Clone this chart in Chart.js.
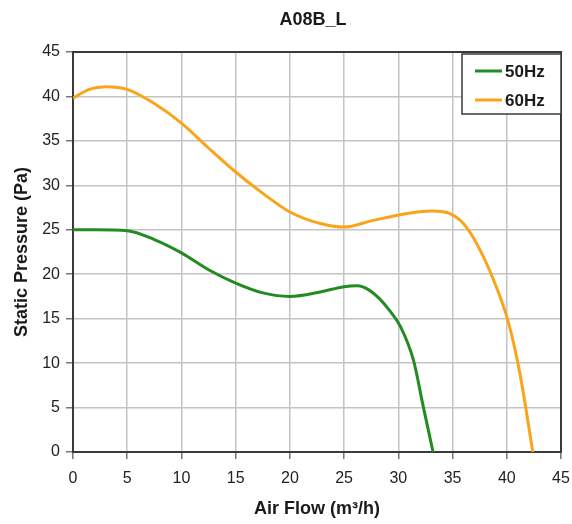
<!DOCTYPE html>
<html>
<head>
<meta charset="utf-8">
<script src="https://cdn.jsdelivr.net/npm/chart.js@4/dist/chart.umd.min.js"></script>
<style>
  html, body { margin: 0; padding: 0; background: #fff; }
  #wrap { width: 572px; height: 524px; }
</style>
</head>
<body>
<div id="wrap"><canvas id="chart" width="572" height="524"></canvas></div>
<script>
// Fan curve A08B_L
const chartTitle = 'A08B_L';
const xTicks = [0, 5, 10, 15, 20, 25, 30, 35, 40, 45];
const yTicks = [0, 5, 10, 15, 20, 25, 30, 35, 40, 45];

const flow50 = [0, 2, 5, 7.5, 10, 12.5, 15, 17.5, 20, 22.8, 25, 26.2, 27.2, 28.3, 29.2, 30.2, 31.4, 32.3, 33.2];
const pres50 = [25, 25, 24.9, 23.9, 22.4, 20.5, 19.0, 17.9, 17.5, 18.0, 18.6, 18.7, 18.3, 17.2, 15.9, 14.1, 10.3, 5.1, 0];

const flow60 = [0, 1.5, 3, 5, 7.5, 10, 12.5, 15, 17.5, 20, 22.8, 25, 27.5, 30.2, 33.1, 34.8, 36, 37.2, 38.8, 40.1, 41.2, 42.4];
const pres60 = [39.8, 40.8, 41.1, 40.8, 39.2, 37.0, 34.2, 31.5, 29.1, 27.0, 25.7, 25.3, 26.0, 26.7, 27.1, 26.8, 25.7, 23.5, 19.3, 14.8, 8.9, 0];

const GREEN = '#228b22';
const ORANGE = '#f8a51c';
const FONT = "'Liberation Sans', Arial, sans-serif";

const toPoints = (xs, ys) => xs.map((x, i) => ({ x: x, y: ys[i] }));

// frame around the plot + title centred on the plot
const framePlugin = {
  id: 'frame',
  beforeDatasetsDraw(chart) {
    const { ctx, chartArea: a } = chart;
    ctx.save();
    ctx.strokeStyle = '#3a3a3a';
    ctx.lineWidth = 2;
    ctx.strokeRect(a.left, a.top, a.right - a.left, a.bottom - a.top);
    ctx.restore();
  },
  afterDraw(chart) {
    const { ctx, chartArea: a } = chart;
    ctx.save();
    ctx.fillStyle = '#1a1a1a';
    ctx.font = 'bold 18px ' + FONT;
    ctx.textAlign = 'center';
    ctx.textBaseline = 'middle';
    ctx.fillText(chartTitle, (a.left + a.right) / 2 - 4, 20);
    ctx.restore();
  }
};

// legend box in the top right corner of the plot
const boxLegend = {
  id: 'boxLegend',
  afterDraw(chart) {
    const { ctx, chartArea: a } = chart;
    const w = 99, h = 60;
    const x0 = a.right - w, y0 = a.top + 2;
    ctx.save();
    ctx.fillStyle = '#fff';
    ctx.fillRect(x0, y0, w, h);
    ctx.strokeStyle = '#3a3a3a';
    ctx.lineWidth = 1.5;
    ctx.strokeRect(x0, y0, w, h);
    chart.data.datasets.forEach((ds, i) => {
      const y = y0 + 17 + i * 29;
      ctx.strokeStyle = ds.borderColor;
      ctx.lineWidth = 3;
      ctx.beginPath();
      ctx.moveTo(x0 + 13, y);
      ctx.lineTo(x0 + 40, y);
      ctx.stroke();
      ctx.fillStyle = '#1a1a1a';
      ctx.font = 'bold 17px ' + FONT;
      ctx.textAlign = 'left';
      ctx.textBaseline = 'middle';
      ctx.fillText(ds.label, x0 + 43, y + 1);
    });
    ctx.restore();
  }
};

new Chart(document.getElementById('chart'), {
  type: 'scatter',
  data: {
    datasets: [
      { label: '50Hz', data: toPoints(flow50, pres50), borderColor: GREEN, backgroundColor: GREEN },
      { label: '60Hz', data: toPoints(flow60, pres60), borderColor: ORANGE, backgroundColor: ORANGE }
    ]
  },
  options: {
    responsive: false,
    animation: false,
    layout: { padding: { top: 52, right: 11, left: 0, bottom: 0 } },
    elements: {
      line: { borderWidth: 3, cubicInterpolationMode: 'monotone' },
      point: { radius: 0 }
    },
    datasets: { scatter: { showLine: true } },
    plugins: {
      legend: { display: false },
      title: { display: false },
      tooltip: { enabled: false }
    },
    scales: {
      x: {
        type: 'linear',
        min: 0, max: 45,
        afterFit: s => { s.height = 72; s.paddingLeft = 0; s.paddingRight = 0; },
        afterBuildTicks: s => { s.ticks = xTicks.map(v => ({ value: v })); },
        grid: { color: '#c4c4c4', lineWidth: 1.5, tickLength: 7, tickColor: '#777' },
        border: { display: false },
        ticks: { color: '#222', font: { family: FONT, size: 16 }, padding: 10, maxRotation: 0 },
        title: {
          display: true, text: 'Air Flow (m³/h)', color: '#1a1a1a',
          font: { family: FONT, size: 18, weight: 'bold' },
          padding: { top: 0, bottom: 4 }
        }
      },
      y: {
        type: 'linear',
        min: 0, max: 45,
        afterFit: s => { s.width = 73; s.paddingTop = 0; s.paddingBottom = 0; },
        afterBuildTicks: s => { s.ticks = yTicks.map(v => ({ value: v })); },
        grid: { color: '#c4c4c4', lineWidth: 1.5, tickLength: 7, tickColor: '#777' },
        border: { display: false },
        ticks: { color: '#222', font: { family: FONT, size: 16 }, padding: 6 },
        title: {
          display: true, text: 'Static Pressure (Pa)', color: '#1a1a1a',
          font: { family: FONT, size: 18, weight: 'bold' },
          padding: { top: 11, bottom: 0 }
        }
      }
    }
  },
  plugins: [framePlugin, boxLegend]
});
</script>
</body>
</html>
